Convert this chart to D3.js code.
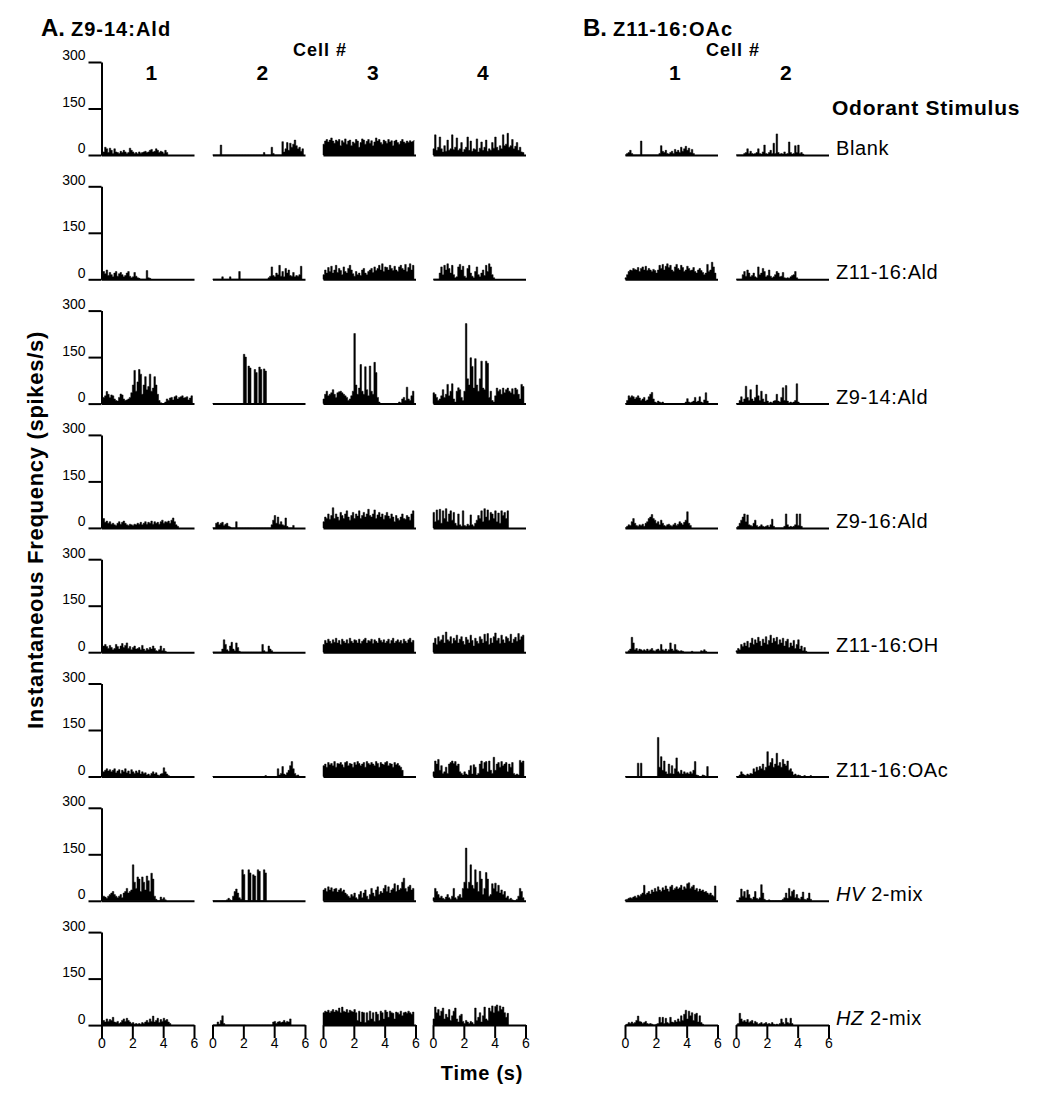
<!DOCTYPE html>
<html>
<head>
<meta charset="utf-8">
<script src="https://d3js.org/d3.v7.min.js"></script>
<style>
body { margin: 0; background: #fff; }
svg { display: block; font-family: "Liberation Sans", Arial, sans-serif; }
.trace { fill: #000; stroke: #000; stroke-width: 0.5; }
</style>
</head>
<body>
<script>
//everything inside an anonymous function so nothing leaks to global scope
(function (){

    //instantaneous frequency (spikes/s) in 0.1 s bins, one list per cell: A1, A2, A3, A4, B1, B2
    var blank = [
        [0,10,25,20,8,22,15,5,20,10,8,5,12,8,15,10,5,8,22,15,10,5,8,4,10,6,8,10,12,8,10,15,18,10,12,20,15,8,12,10,5,15,8,0],
        [0,0,0,0,0,32,0,0,0,0,0,0,0,0,0,0,0,0,0,0,0,0,0,0,0,0,0,0,0,0,0,0,0,8,0,0,0,0,25,5,0,0,0,0,0,43,10,20,40,15,38,25,35,48,30,20,25,12,20,8],
        [35,45,50,42,48,55,45,38,48,44,50,30,46,40,52,35,45,48,30,42,38,50,45,25,40,52,48,35,44,50,38,46,30,42,55,45,50,40,35,48,44,38,50,42,46,30,45,48,40,35,44,50,42,38,45,40,46,42,44,48],
        [20,65,15,25,58,20,10,30,12,48,15,20,65,18,25,55,15,20,40,10,18,25,58,15,45,12,20,18,52,10,22,42,15,25,48,12,20,15,40,22,58,25,15,30,20,65,30,35,70,25,30,50,20,28,40,15,25,10,8,5],
        [0,5,8,15,5,0,0,0,0,0,45,0,0,0,0,0,0,0,0,0,0,0,5,30,12,8,15,5,3,8,12,5,18,10,15,8,25,12,20,28,15,22,8,18,5,0],
        [0,0,0,0,0,5,8,20,5,12,5,3,5,8,20,5,3,10,32,5,3,8,15,5,38,5,68,8,3,5,3,10,3,5,42,8,3,5,30,8,32,5,8,3,0]
    ];
    var z1116Ald = [
        [10,25,18,30,12,22,15,8,20,25,10,18,22,15,8,12,20,25,10,5,8,22,10,5,3,0,0,0,0,28,5,3,0],
        [0,0,0,0,0,0,8,0,0,0,0,8,0,0,0,0,0,25,0,0,0,0,0,0,0,0,0,0,0,0,0,0,0,0,0,0,5,10,40,12,8,20,15,45,10,25,8,35,20,30,12,10,22,8,12,10,15,42,5],
        [15,30,20,38,25,42,20,30,45,22,35,28,15,40,25,20,35,45,30,18,10,25,15,20,12,30,35,20,15,25,30,35,22,40,28,35,45,30,50,25,40,38,30,45,35,28,42,30,25,40,45,35,30,48,25,38,50,30,45,20],
        [0,0,0,0,20,40,15,45,30,50,35,20,45,15,5,8,40,48,30,42,10,5,35,45,20,10,5,25,40,15,8,20,30,12,45,25,50,40,15,5,0],
        [5,15,25,30,28,35,32,30,38,25,35,40,30,42,28,35,30,25,32,28,20,30,45,35,48,30,42,50,38,45,30,25,40,48,35,30,45,38,25,30,42,35,28,30,38,25,20,30,35,28,22,15,20,48,25,30,55,40,20,0],
        [0,0,0,0,15,25,10,30,20,8,12,20,8,5,40,15,20,35,25,8,12,30,10,5,8,15,25,20,8,10,22,5,3,5,3,8,12,15,25,5,0]
    ];
    var z914Ald = [
        [10,20,25,39,30,20,28,25,15,10,8,20,31,28,15,10,12,15,20,35,60,107,40,70,110,95,30,60,87,45,55,95,40,50,87,60,30,10,3,0,0,5,15,10,18,20,12,22,25,15,20,22,25,18,20,22,12,18,25,10],
        [0,0,0,0,0,0,0,0,0,0,0,0,0,0,0,0,0,0,0,0,159,150,0,121,115,0,0,110,100,0,118,110,0,112,105,0],
        [15,30,40,25,30,35,45,30,20,35,38,40,35,30,25,20,10,15,25,40,226,60,30,50,126,40,30,119,45,25,121,40,30,133,100,20,5,0,0,0,0,0,0,0,0,0,0,0,0,5,3,15,20,10,53,15,10,25,40,20],
        [35,30,20,10,15,25,45,20,30,62,25,40,64,15,5,40,51,45,20,10,40,258,80,60,148,120,50,145,60,40,80,137,50,45,137,130,20,40,10,5,25,50,40,45,30,50,35,45,50,40,35,48,30,50,45,30,15,62,55,5],
        [0,10,25,20,25,22,15,20,25,18,10,15,20,8,12,22,30,36,15,5,3,8,5,3,5,0,0,0,0,0,0,0,0,0,0,0,0,0,0,5,16,5,3,5,8,20,5,8,22,5,3,12,35,8,0],
        [0,0,10,22,5,15,56,20,10,45,15,8,20,60,25,10,40,15,5,30,8,3,5,3,8,10,30,8,5,20,51,10,58,8,3,5,3,5,10,64,5,0]
    ];
    var z916Ald = [
        [20,30,18,22,15,20,12,15,10,8,15,20,12,18,22,15,10,8,12,10,8,12,10,15,12,18,10,15,20,12,18,15,22,12,20,15,18,12,20,25,15,20,18,22,15,25,32,20,10,5,0],
        [0,0,15,18,10,15,18,8,12,15,5,3,0,0,0,20,0,0,0,0,0,0,0,0,0,0,0,0,0,0,0,0,0,0,0,0,0,0,10,25,40,15,35,12,20,10,8,32,5,0,0,0,8,0],
        [20,35,30,45,28,40,65,30,45,35,25,50,40,30,45,55,35,25,40,50,30,45,38,55,30,40,50,35,45,60,40,35,45,58,30,42,50,35,45,28,40,50,38,30,45,35,20,40,30,25,35,45,30,28,40,35,25,45,55,30],
        [50,20,58,25,60,15,55,30,62,20,45,55,25,50,15,8,45,10,5,55,8,5,12,8,42,10,5,15,25,40,30,55,20,62,35,58,25,50,45,30,55,20,48,15,55,40,50,30,55,0],
        [0,5,10,8,20,30,15,8,5,10,8,12,5,15,20,30,35,43,30,25,15,20,10,25,15,8,5,10,12,8,5,10,15,8,12,20,15,10,18,25,52,15,8,0],
        [0,5,15,25,35,45,20,42,10,8,5,15,25,8,3,5,10,5,3,5,8,3,10,28,5,0,0,0,0,0,0,5,45,10,3,5,3,5,10,45,8,45,5,0]
    ];
    var z1116OH = [
        [15,20,25,18,12,22,15,8,12,25,18,10,20,28,15,22,30,12,18,8,15,20,10,12,15,8,22,10,5,12,8,15,10,20,12,5,3,8,20,5,12,3,0],
        [0,0,0,0,0,0,10,40,25,8,3,20,32,10,5,30,15,3,0,0,0,0,0,0,0,0,0,0,0,0,0,0,25,5,0,0,20,10,5,0],
        [25,38,30,42,35,28,40,32,45,30,38,25,42,35,30,40,28,45,35,30,40,38,30,42,28,35,40,45,30,38,35,42,28,40,35,30,45,38,32,40,30,35,42,28,38,45,30,35,40,32,38,28,42,35,30,40,45,32,38,30],
        [30,45,25,50,35,40,55,30,65,40,35,50,28,45,38,55,30,42,50,35,25,48,40,30,55,38,20,45,35,28,50,42,30,58,35,60,25,45,30,50,62,38,45,28,55,40,30,50,45,35,58,30,42,48,35,60,40,50,55,30],
        [0,0,5,10,48,30,8,12,5,10,8,5,8,5,10,5,8,12,5,3,8,10,5,25,8,5,10,3,8,30,10,5,25,8,5,3,5,3,0,0,0,0,0,3,0,0,0,0,0,5,3,8,3,0],
        [5,12,8,25,18,30,20,35,15,30,45,25,40,30,48,35,20,42,30,50,25,38,55,30,45,35,48,25,40,30,45,20,35,42,15,30,20,38,12,25,40,10,20,5,15,3,0]
    ];
    var z1116OAc = [
        [10,15,20,25,18,22,15,20,25,12,18,22,10,20,15,25,12,18,8,22,15,10,18,12,20,8,15,10,12,5,8,3,10,15,8,12,5,3,8,10,28,15,8,3,0],
        [0,0,0,0,0,0,0,0,0,0,0,0,0,0,0,0,0,0,0,0,0,0,0,0,0,0,0,0,0,0,0,0,0,0,3,0,0,0,0,0,0,0,25,5,10,32,8,5,12,20,35,48,25,10,3,5,0],
        [35,40,30,45,38,42,35,48,30,42,40,45,38,30,45,48,35,42,40,30,45,38,48,42,35,40,45,30,48,42,38,45,40,35,48,42,30,45,40,38,45,48,35,42,40,30,45,38,42,35,30,20,0],
        [15,50,40,55,20,35,10,15,30,10,40,45,50,42,48,35,40,15,10,5,15,8,5,20,35,8,38,30,5,10,40,50,25,45,48,15,50,20,10,62,20,40,45,30,48,35,40,45,15,40,30,45,10,5,8,5,52,45,50,10],
        [0,0,0,0,0,0,0,0,43,0,43,0,0,0,0,0,0,0,0,0,0,126,30,64,20,50,15,8,40,10,35,8,25,60,15,10,20,8,15,10,12,8,15,10,20,48,5,3,0,0,5,3,0,32,0],
        [0,0,5,15,8,5,3,8,5,10,8,25,15,30,20,32,25,40,20,30,80,35,45,58,30,40,75,35,45,30,55,40,35,50,20,25,15,5,8,3,5,3,0,0,3,0,0,0,3,0]
    ];
    var hv2Mix = [
        [10,15,12,8,15,20,25,30,20,15,10,15,20,10,25,30,40,25,30,35,116,60,40,77,70,30,77,60,35,80,65,30,89,70,15,5,0,0,12,5,10,3,0],
        [0,0,0,0,0,0,0,0,0,3,8,3,0,15,30,38,25,10,5,100,85,0,0,100,90,0,84,80,0,100,95,0,0,100,90,0],
        [35,40,30,45,35,42,30,38,40,28,35,40,30,35,25,20,15,10,20,15,25,10,5,20,30,10,25,35,15,5,20,40,25,15,35,45,20,30,25,40,50,30,45,25,35,40,55,30,50,35,40,60,73,40,30,45,50,35,40,15],
        [10,40,30,20,10,15,8,5,12,20,10,5,15,40,10,5,15,20,10,40,60,170,40,60,116,50,40,100,60,30,95,70,20,40,91,70,15,20,55,40,57,30,50,25,35,20,30,10,15,5,8,3,0,0,5,15,40,30,10,3],
        [3,5,8,10,8,12,15,10,18,15,20,25,50,20,25,30,22,35,28,40,30,45,35,30,42,35,48,38,30,45,50,35,40,45,38,42,50,35,45,40,55,58,40,45,50,35,40,30,38,32,35,28,30,25,20,25,18,15,48,10],
        [0,0,10,38,15,30,10,35,20,8,5,12,30,8,5,10,52,25,5,0,0,3,0,0,0,0,0,0,0,0,5,10,25,8,40,15,30,35,10,20,8,5,12,28,5,3,8,25,5,0]
    ];
    var hz2Mix = [
        [5,15,10,20,12,18,15,25,10,8,12,5,8,15,20,12,22,15,10,5,8,3,5,3,5,3,8,5,10,15,8,20,12,29,10,15,22,8,18,12,22,15,18,10,5,0],
        [0,0,0,10,3,15,30,5,0,0,0,0,0,0,0,0,0,0,0,0,0,0,0,0,0,0,0,0,0,0,0,0,0,0,0,0,0,0,0,10,12,5,10,12,8,10,15,8,12,10,20,0],
        [40,45,42,48,40,45,50,42,48,45,55,40,58,45,42,50,40,48,45,42,50,40,15,45,10,42,40,8,40,15,45,20,40,12,42,35,15,45,40,20,48,42,25,45,40,38,20,42,40,35,45,30,40,42,38,45,40,35,42,40],
        [20,58,40,50,30,45,55,20,35,25,50,15,30,45,55,20,10,30,35,12,5,15,10,5,12,8,3,55,15,25,40,10,30,58,20,15,55,45,62,40,60,65,45,62,50,58,40,25,38,0],
        [0,3,8,5,10,5,8,15,29,12,10,5,8,12,5,3,5,3,0,0,3,5,25,8,25,5,22,8,5,25,10,8,15,10,20,12,30,15,35,48,20,45,30,40,15,35,38,10,30,8,3,0],
        [0,5,38,20,12,15,10,18,8,12,15,5,12,8,3,5,8,3,5,8,3,5,3,8,3,0,3,0,5,20,8,3,22,8,5,22,5,0]
    ];

    var stimuli = ["Blank", "Z11-16:Ald", "Z9-14:Ald", "Z9-16:Ald", "Z11-16:OH", "Z11-16:OAc", "HV 2-mix", "HZ 2-mix"];
    var rows = [blank, z1116Ald, z914Ald, z916Ald, z1116OH, z1116OAc, hv2Mix, hz2Mix];
    var cellNames = ["1", "2", "3", "4", "1", "2"];
    var binWidth = 0.1; //seconds per value
    var timeTicks = [0, 2, 4, 6];
    var rateTicks = [0, 150, 300];

    //layout
    var width = 1050, height = 1097;
    var colLeft = [101.5, 212.5, 323, 433, 625, 736];
    var panelWidth = 92.5,
        panelHeight = 93,
        firstBase = 155,
        rowStep = 124.3;

    setFigure();

    function setFigure(){
        var svg = d3.select("body")
            .append("svg")
            .attr("width", width)
            .attr("height", height);

        svg.append("rect")
            .attr("width", width)
            .attr("height", height)
            .attr("fill", "#fff");

        rows.forEach(function(cells, r){
            var base = firstBase + r * rowStep;
            cells.forEach(function(values, c){
                drawPanel(svg, values, r, c, base);
            });

            //stimulus name at the right
            var label = svg.append("text")
                .attr("x", 836)
                .attr("y", base)
                .style("font-size", "20px")
                .style("letter-spacing", "0.6px");
            var name = stimuli[r];
            if (name.indexOf(" 2-mix") > 0){
                label.append("tspan").style("font-style", "italic").text(name.split(" ")[0]);
                label.append("tspan").text(" 2-mix");
            } else {
                label.text(name);
            }
        });

        setTitles(svg);
    };

    //black lines and 14px labels for an axis group
    function styleAxis(g){
        g.attr("font-family", null).attr("font-size", null);
        g.selectAll("path, line")
            .attr("stroke", "#000")
            .attr("stroke-width", 2);
        g.selectAll("text")
            .attr("fill", "#000")
            .style("font-size", "14px");
    }

    function drawPanel(svg, values, r, c, base){
        var x = d3.scaleLinear()
            .domain([0, 6])
            .range([colLeft[c], colLeft[c] + panelWidth]);
        var y = d3.scaleLinear()
            .domain([0, 300])
            .range([base, base - panelHeight]);

        //filled frequency trace, steps held for each bin
        var area = d3.area()
            .curve(d3.curveStepAfter)
            .x(function(d, i){ return x(i * binWidth); })
            .y0(y(0))
            .y1(function(d){ return y(d); });

        svg.append("path")
            .datum(values)
            .attr("class", "trace")
            .attr("d", area);

        //time axis: ticks only on the bottom row
        var lastRow = r == rows.length - 1;
        var xAxis = d3.axisBottom(x)
            .tickValues(lastRow ? timeTicks : [])
            .tickFormat(d3.format("d"))
            .tickSize(13)
            .tickSizeOuter(0)
            .tickPadding(0);

        svg.append("g")
            .attr("class", "axis")
            .attr("transform", "translate(0," + y(0) + ")")
            .call(xAxis)
            .call(styleAxis);

        //rate axis on the first cell of A only
        if (c == 0){
            var yAxis = d3.axisLeft(y)
                .tickValues(rateTicks)
                .tickSize(13)
                .tickSizeOuter(0)
                .tickPadding(3);

            var g = svg.append("g")
                .attr("class", "axis")
                .attr("transform", "translate(" + x(0) + ",0)")
                .call(yAxis)
                .call(styleAxis);
            g.selectAll("text").attr("dy", "-0.15em");
        }
    };

    function setTitles(svg){
        //panel letters
        svg.append("text").attr("x", 41).attr("y", 36)
            .style("font-size", "24px").style("font-weight", "bold").text("A.");
        svg.append("text").attr("x", 71).attr("y", 36)
            .style("font-size", "20px").style("font-weight", "bold").style("letter-spacing", "1px")
            .text("Z9-14:Ald");
        svg.append("text").attr("x", 583).attr("y", 36)
            .style("font-size", "24px").style("font-weight", "bold").text("B.");
        svg.append("text").attr("x", 613).attr("y", 36)
            .style("font-size", "20px").style("font-weight", "bold").style("letter-spacing", "1px")
            .text("Z11-16:OAc");

        //cell headers
        [320, 733].forEach(function(cx){
            svg.append("text").attr("x", cx).attr("y", 55.5)
                .attr("text-anchor", "middle")
                .style("font-size", "18px").style("font-weight", "bold").style("letter-spacing", "1px")
                .text("Cell #");
        });
        cellNames.forEach(function(name, c){
            svg.append("text")
                .attr("x", colLeft[c] + panelWidth / 2 + 3.5)
                .attr("y", 80)
                .attr("text-anchor", "middle")
                .style("font-size", "21px").style("font-weight", "bold")
                .text(name);
        });

        svg.append("text").attr("x", 832).attr("y", 115)
            .style("font-size", "21px").style("font-weight", "bold").style("letter-spacing", "0.75px")
            .text("Odorant Stimulus");

        //axis titles
        svg.append("text")
            .attr("transform", "translate(43,530) rotate(-90)")
            .attr("text-anchor", "middle")
            .style("font-size", "22px").style("font-weight", "bold").style("letter-spacing", "0.7px")
            .text("Instantaneous Frequency (spikes/s)");

        svg.append("text").attr("x", 482).attr("y", 1080)
            .attr("text-anchor", "middle")
            .style("font-size", "20px").style("font-weight", "bold").style("letter-spacing", "0.75px")
            .text("Time (s)");
    };

})();
</script>
</body>
</html>
